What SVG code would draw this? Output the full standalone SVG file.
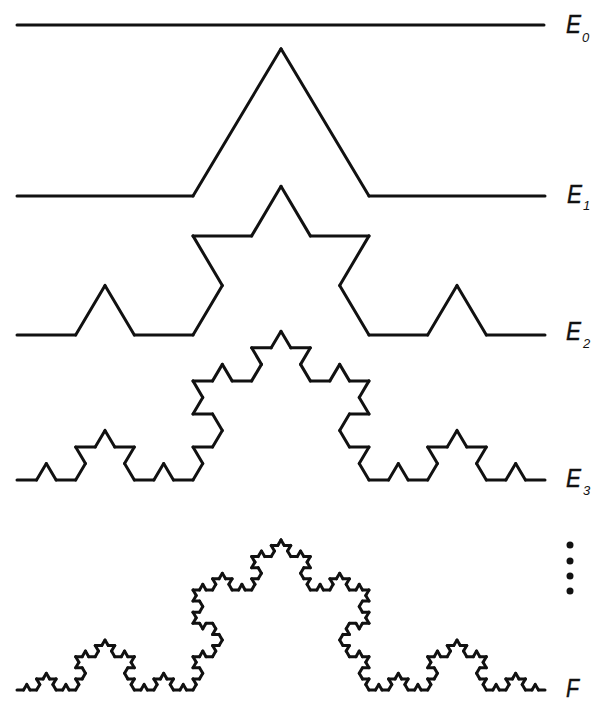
<svg xmlns="http://www.w3.org/2000/svg" xmlns:xlink="http://www.w3.org/1999/xlink" width="594" height="703" viewBox="0 0 594 703">
<style>
.seg{fill:none;vector-effect:non-scaling-stroke;stroke-linecap:round;stroke-linejoin:round}
.curve{stroke:#111;stroke-width:3}
.thin{stroke:#111;stroke-width:3}
.lbl{font-family:"Liberation Sans",Arial,sans-serif;font-style:italic;font-size:25px;fill:#111;stroke:#111;stroke-width:0.4}
.sub{font-family:"Liberation Sans",Arial,sans-serif;font-style:italic;font-size:13px;fill:#111}
</style>
<defs>
<path id="k0" class="seg" d="M0,0 L1,0"/>
<g id="k1">
<use xlink:href="#k0" transform="scale(0.3333333)"/>
<use xlink:href="#k0" transform="translate(0.3333333,0) rotate(-60) scale(0.3333333)"/>
<use xlink:href="#k0" transform="translate(0.5,-0.2886751) rotate(60) scale(0.3333333)"/>
<use xlink:href="#k0" transform="translate(0.6666667,0) scale(0.3333333)"/>
</g>
<g id="k2">
<use xlink:href="#k1" transform="scale(0.3333333)"/>
<use xlink:href="#k1" transform="translate(0.3333333,0) rotate(-60) scale(0.3333333)"/>
<use xlink:href="#k1" transform="translate(0.5,-0.2886751) rotate(60) scale(0.3333333)"/>
<use xlink:href="#k1" transform="translate(0.6666667,0) scale(0.3333333)"/>
</g>
<g id="k3">
<use xlink:href="#k2" transform="scale(0.3333333)"/>
<use xlink:href="#k2" transform="translate(0.3333333,0) rotate(-60) scale(0.3333333)"/>
<use xlink:href="#k2" transform="translate(0.5,-0.2886751) rotate(60) scale(0.3333333)"/>
<use xlink:href="#k2" transform="translate(0.6666667,0) scale(0.3333333)"/>
</g>
<g id="k4">
<use xlink:href="#k3" transform="scale(0.3333333)"/>
<use xlink:href="#k3" transform="translate(0.3333333,0) rotate(-60) scale(0.3333333)"/>
<use xlink:href="#k3" transform="translate(0.5,-0.2886751) rotate(60) scale(0.3333333)"/>
<use xlink:href="#k3" transform="translate(0.6666667,0) scale(0.3333333)"/>
</g>
</defs>
<rect width="594" height="703" fill="#fff"/>
<g id="E0">
<use xlink:href="#k0" class="curve" transform="translate(17,25) scale(527,510)"/>
</g>
<g id="E1">
<use xlink:href="#k1" class="curve" transform="translate(17,196) scale(528,510)"/>
</g>
<g id="E2">
<use xlink:href="#k2" class="curve" transform="translate(17,335) scale(528,515)"/>
</g>
<g id="E3">
<use xlink:href="#k3" class="curve" transform="translate(17,480) scale(528,515)"/>
</g>
<g id="Fcurve">
<use xlink:href="#k4" class="thin" transform="translate(17,690) scale(528,520)"/>
</g>
<g id="labels">
<text class="lbl" x="566" y="33" textLength="15" lengthAdjust="spacingAndGlyphs">E</text>
<text class="sub" x="582" y="42">0</text>
<text class="lbl" x="567" y="203" textLength="15" lengthAdjust="spacingAndGlyphs">E</text>
<text class="sub" x="583" y="210">1</text>
<text class="lbl" x="566" y="340" textLength="15" lengthAdjust="spacingAndGlyphs">E</text>
<text class="sub" x="583" y="348">2</text>
<text class="lbl" x="566" y="487" textLength="15" lengthAdjust="spacingAndGlyphs">E</text>
<text class="sub" x="583" y="495">3</text>
<text class="lbl" x="566" y="697" textLength="13" lengthAdjust="spacingAndGlyphs">F</text>
</g>
<g id="dots" fill="#111">
<circle cx="570" cy="545" r="3.5"/>
<circle cx="570" cy="561" r="3.5"/>
<circle cx="570" cy="576" r="3.5"/>
<circle cx="570" cy="591" r="3.5"/>
</g>
</svg>
